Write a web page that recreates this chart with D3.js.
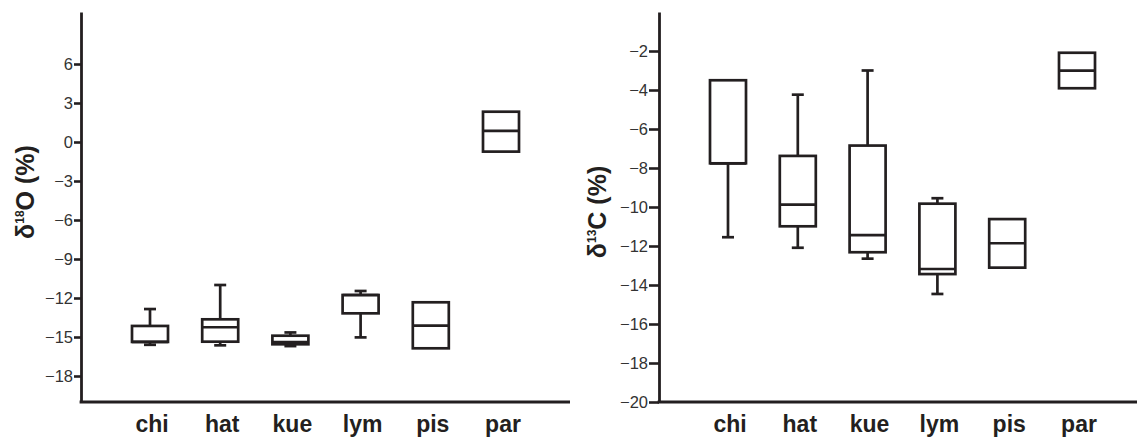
<!DOCTYPE html>
<html>
<head>
<meta charset="utf-8">
<script src="https://cdn.jsdelivr.net/npm/d3@7"></script>
<style>
  html, body { margin: 0; padding: 0; background: #fff; }
  svg { display: block; }
  .tick text { font-family: "Liberation Sans", Arial, sans-serif; }
</style>
</head>
<body>
<svg id="chart" width="1137" height="438"></svg>
<script>
// ---- data ----
const categories = ["chi", "hat", "kue", "lym", "pis", "par"];

// δ18O panel
const oTicks   = [6, 3, 0, -3, -6, -9, -12, -15, -18];
const oWhiskLo = [-15.6, -15.64, -15.7, -15.03, null, null];
const oQ1      = [-15.38, -15.36, -15.56, -13.18, -15.87, -0.74];
const oMedian  = [-15.38, -14.25, -15.4, -11.77, -14.13, 0.85];
const oQ3      = [-14.15, -13.64, -14.9, -11.77, -12.33, 2.33];
const oWhiskHi = [-12.85, -11.0, -14.65, -11.46, null, null];

// δ13C panel
const cTicks   = [-2, -4, -6, -8, -10, -12, -14, -16, -18, -20];
const cWhiskLo = [-11.55, -12.09, -12.65, -14.46, null, null];
const cQ1      = [-7.76, -10.99, -12.32, -13.44, -13.11, -3.91];
const cMedian  = [-7.76, -9.88, -11.44, -13.18, -11.86, -3.01];
const cQ3      = [-3.5, -7.38, -6.85, -9.83, -10.62, -2.09];
const cWhiskHi = [null, -4.24, -3.0, -9.55, null, null];

// ---- drawing ----
const svg = d3.select("#chart");
const ink = "#231f20";

function panel(opts) {
  const g = svg.append("g");
  const y = d3.scaleLinear().domain(opts.yDomain).range([402, 12]);
  const x = d3.scalePoint().domain(categories).range(opts.xRange);
  const axisX = opts.axisX;

  // y axis
  const yAxis = d3.axisLeft(y).tickValues(opts.ticks).tickSize(opts.tickLen).tickSizeOuter(0).tickPadding(1);
  const ya = g.append("g").attr("transform", `translate(${axisX},0)`).call(yAxis);
  ya.select(".domain").attr("stroke", ink).attr("stroke-width", 2.8);
  ya.selectAll(".tick line").attr("stroke", ink).attr("stroke-width", 2.6);
  ya.selectAll(".tick text").attr("fill", "#333").style("font-size", "16.5px");

  // x axis line
  g.append("line")
    .attr("x1", axisX - 1.4).attr("x2", opts.xEnd)
    .attr("y1", 402).attr("y2", 402)
    .attr("stroke", ink).attr("stroke-width", 2.8);

  // x labels
  g.selectAll("text.cat").data(categories).join("text")
    .attr("class", "cat")
    .attr("x", d => x(d) + 2)
    .attr("y", 432)
    .attr("text-anchor", "middle")
    .style("font-family", "'Liberation Sans', Arial, sans-serif")
    .style("font-weight", "bold")
    .style("font-size", "23px")
    .attr("fill", ink)
    .text(d => d);

  // y title
  const t = g.append("text")
    .attr("transform", `translate(${opts.titleX},${opts.titleY}) rotate(-90)`)
    .attr("text-anchor", "middle")
    .style("font-family", "'Liberation Sans', Arial, sans-serif")
    .style("font-weight", "bold")
    .style("font-size", "25px")
    .attr("fill", ink);
  t.append("tspan").text("δ");
  t.append("tspan").text(opts.iso).style("font-size", "12px").attr("dy", -10);
  t.append("tspan").text(opts.elem + " (%)").attr("dy", 10);

  const bw = 36, cw = 12;
  const rows = categories.map((c, i) => ({
    c, lo: opts.lo[i], q1: opts.q1[i], med: opts.med[i], q3: opts.q3[i], hi: opts.hi[i]
  }));
  const bg = g.append("g").attr("stroke", ink).attr("stroke-width", 2.7).attr("fill", "none");
  rows.forEach(r => {
    const cx = x(r.c);
    if (r.hi != null) {
      bg.append("line").attr("x1", cx).attr("x2", cx).attr("y1", y(r.q3)).attr("y2", y(r.hi));
      bg.append("line").attr("x1", cx - cw / 2).attr("x2", cx + cw / 2).attr("y1", y(r.hi)).attr("y2", y(r.hi));
    }
    if (r.lo != null) {
      bg.append("line").attr("x1", cx).attr("x2", cx).attr("y1", y(r.q1)).attr("y2", y(r.lo));
      bg.append("line").attr("x1", cx - cw / 2).attr("x2", cx + cw / 2).attr("y1", y(r.lo)).attr("y2", y(r.lo));
    }
    bg.append("rect")
      .attr("x", cx - bw / 2).attr("width", bw)
      .attr("y", y(r.q3)).attr("height", y(r.q1) - y(r.q3))
      .attr("fill", "#fff");
    bg.append("line").attr("x1", cx - bw / 2).attr("x2", cx + bw / 2)
      .attr("y1", y(r.med)).attr("y2", y(r.med));
  });
}

panel({
  yDomain: [-20, 10], ticks: oTicks, axisX: 81, xEnd: 570, xRange: [150, 501], tickLen: 7,
  lo: oWhiskLo, q1: oQ1, med: oMedian, q3: oQ3, hi: oWhiskHi,
  iso: "18", elem: "O", titleX: 34, titleY: 192
});
panel({
  yDomain: [-20, 0], ticks: cTicks, axisX: 659, xEnd: 1137, xRange: [728, 1077], tickLen: 10,
  lo: cWhiskLo, q1: cQ1, med: cMedian, q3: cQ3, hi: cWhiskHi,
  iso: "13", elem: "C", titleX: 606, titleY: 212
});
</script>
</body>
</html>
